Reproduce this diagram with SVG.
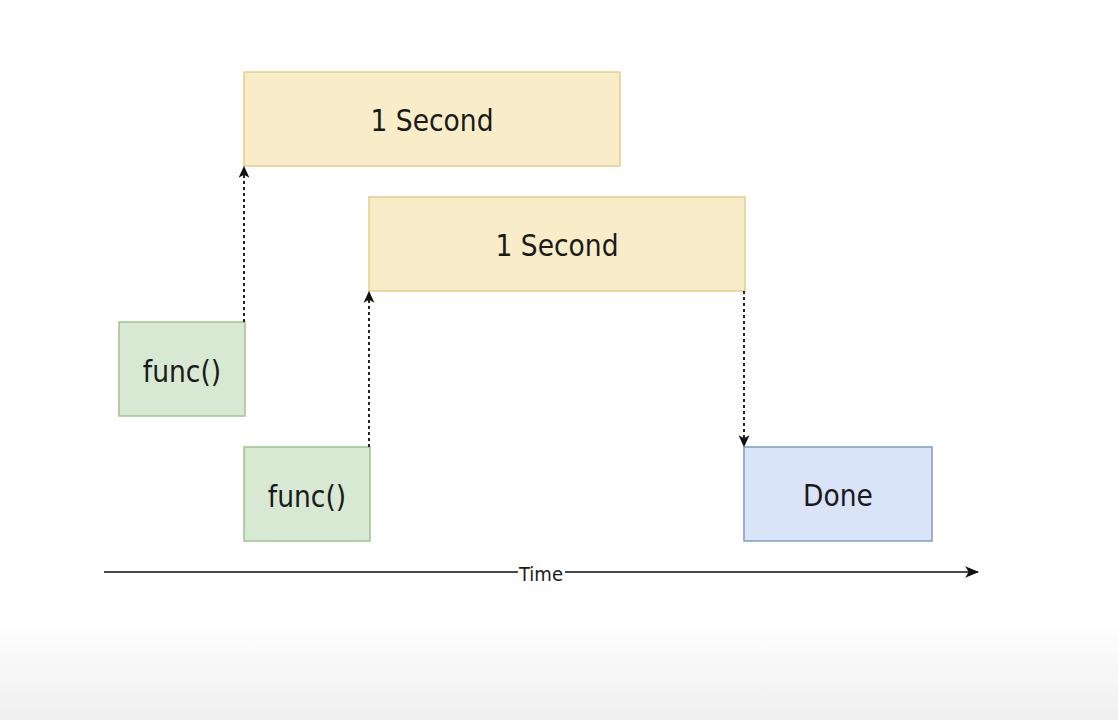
<svg xmlns="http://www.w3.org/2000/svg" width="1118" height="720" viewBox="0 0 1118 720">
  <defs>
    <linearGradient id="bg" x1="0" y1="0" x2="0" y2="1">
      <stop offset="0" stop-color="#ffffff"/>
      <stop offset="1" stop-color="#efefef"/>
    </linearGradient>
    <marker id="arr" viewBox="0 0 10 10" refX="9" refY="5" markerWidth="12" markerHeight="12" markerUnits="userSpaceOnUse" orient="auto">
      <path d="M0,0.5 L10,5 L0,9.5 L2.5,5 Z" fill="#111"/>
    </marker>
    <marker id="arrBig" viewBox="0 0 12 12" refX="11" refY="6" markerWidth="14" markerHeight="14" markerUnits="userSpaceOnUse" orient="auto">
      <path d="M0,1 L12,6 L0,11 L3,6 Z" fill="#111"/>
    </marker>
  </defs>
  <style>
    .yellow { fill: #f9edc9; stroke: #e2cf8c; stroke-width: 1.5; }
    .green { fill: #d7e8d3; stroke: #9dc38c; stroke-width: 1.5; }
    .blue { fill: #dae4f8; stroke: #8198c9; stroke-width: 1.5; }
    .lbl { font-family: "DejaVu Sans Condensed", "DejaVu Sans", sans-serif; font-size: 29.5px; fill: #1a1a1a; text-anchor: middle; dominant-baseline: central; }
    .dash { stroke: #222; stroke-width: 2; stroke-dasharray: 3 3; fill: none; marker-end: url(#arr); }
    .axis { stroke: #111; stroke-width: 1.6; fill: none; marker-end: url(#arrBig); }
    .time { font-family: "DejaVu Sans Condensed", "DejaVu Sans", sans-serif; font-size: 20px; fill: #1a1a1a; text-anchor: middle; dominant-baseline: central; }
  </style>
  <rect x="0" y="0" width="1118" height="720" fill="#ffffff"/>
  <rect x="0" y="620" width="1118" height="100" fill="url(#bg)"/>

  <g id="second1">
    <rect class="yellow" x="244" y="72" width="376" height="94"/>
    <text class="lbl" x="432" y="121">1 Second</text>
  </g>
  <g id="second2">
    <rect class="yellow" x="369" y="197" width="376" height="94"/>
    <text class="lbl" x="557" y="246">1 Second</text>
  </g>
  <g id="func1">
    <rect class="green" x="119" y="322" width="126" height="94"/>
    <text class="lbl" x="182" y="372">func()</text>
  </g>
  <g id="func2">
    <rect class="green" x="244" y="447" width="126" height="94"/>
    <text class="lbl" x="307" y="497">func()</text>
  </g>
  <g id="done">
    <rect class="blue" x="744" y="447" width="188" height="94"/>
    <text class="lbl" x="838" y="496">Done</text>
  </g>

  <g id="connectors">
    <line class="dash" x1="244" y1="322" x2="244" y2="167"/>
    <line class="dash" x1="369" y1="447" x2="369" y2="292"/>
    <line class="dash" x1="744" y1="291" x2="744" y2="446"/>
    <line class="axis" x1="104" y1="572" x2="978" y2="572"/>
    <rect x="518" y="562" width="47" height="22" fill="#ffffff"/>
    <text class="time" x="541" y="574">Time</text>
  </g>
</svg>
